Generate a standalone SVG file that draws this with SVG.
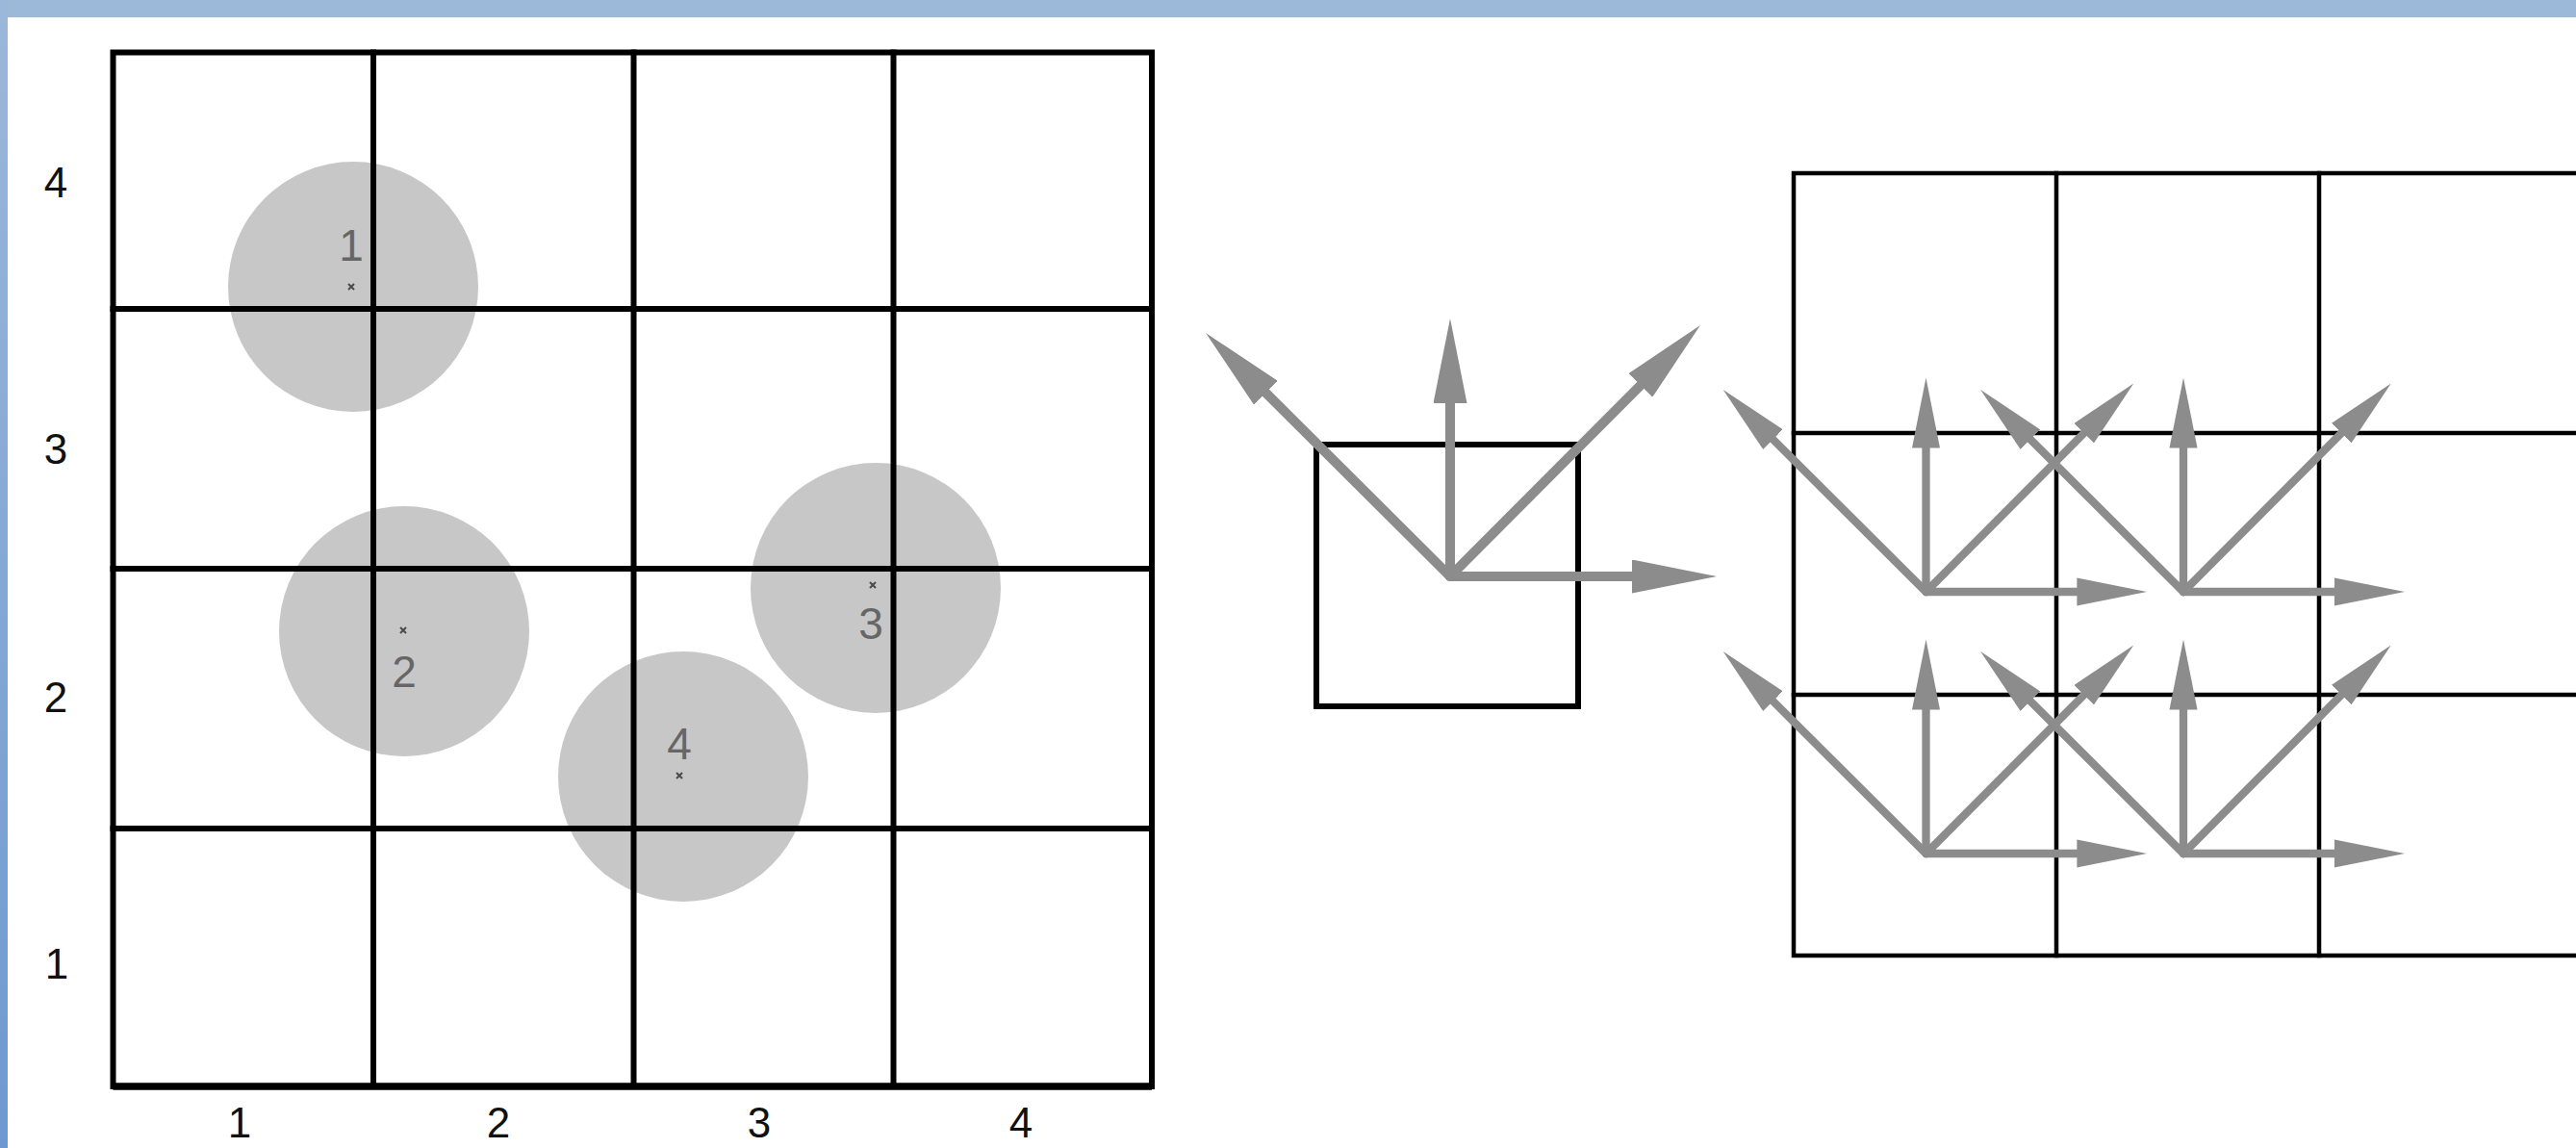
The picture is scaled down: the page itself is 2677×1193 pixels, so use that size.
<svg xmlns="http://www.w3.org/2000/svg" xmlns:xlink="http://www.w3.org/1999/xlink" width="2677" height="1193" viewBox="0 0 2677 1193">
  <style>
    .grid { stroke: #000; stroke-width: 6; fill: none; stroke-linecap: square; }
    .gridR { stroke: #000; stroke-width: 4.5; fill: none; stroke-linecap: square; }
    .disc { fill: #c7c7c7; }
    .dot { stroke: #4a4a4a; stroke-width: 2; }
    .axis { font-family: "Liberation Sans Narrow", "Liberation Sans", Arial, sans-serif; font-size: 44px; fill: #111; text-anchor: middle; }
    .clabel { font-family: "Liberation Sans Narrow", "Liberation Sans", Arial, sans-serif; font-size: 46px; fill: #666; text-anchor: middle; }
    .arr { stroke: #8c8c8c; stroke-width: 10; fill: none; stroke-linecap: round; marker-end: url(#ah); }
  </style>
  <defs>
    <linearGradient id="bandL" x1="0" y1="0" x2="0" y2="1">
      <stop offset="0" stop-color="#9bb8da"/>
      <stop offset="1" stop-color="#6e99d0"/>
    </linearGradient>
    <marker id="ah" markerUnits="strokeWidth" markerWidth="8.8" markerHeight="3.5" viewBox="0 0 8.8 3.5" refX="0.8" refY="1.75" orient="auto">
      <path d="M0,0 L8.8,1.75 L0,3.5 Z" fill="#8c8c8c"/>
    </marker>
    <g id="arrowset">
      <line class="arr" x1="0" y1="0" x2="0" y2="-188"/>
      <line class="arr" x1="0" y1="0" x2="197" y2="0"/>
      <line class="arr" x1="0" y1="0" x2="-197.3" y2="-196.5"/>
      <line class="arr" x1="0" y1="0" x2="203.5" y2="-204.3"/>
    </g>
    <path id="xmark" class="dot" d="M-3,-3 L3,3 M3,-3 L-3,3"/>
  </defs>

  <rect x="0" y="0" width="2677" height="1193" fill="#fff"/>
  <rect x="0" y="0" width="2677" height="18" fill="#9db9da"/>
  <rect x="0" y="0" width="8" height="1193" fill="url(#bandL)"/>

  <g id="discs">
    <g id="disc1"><circle class="disc" cx="367" cy="298" r="130"/></g>
    <g id="disc2"><circle class="disc" cx="420" cy="656" r="130"/></g>
    <g id="disc3"><circle class="disc" cx="910" cy="611" r="130"/></g>
    <g id="disc4"><circle class="disc" cx="710" cy="807" r="130"/></g>
  </g>

  <g id="left-grid">
    <rect class="grid" x="117.5" y="54.5" width="1079.5" height="1074.5"/>
    <line class="grid" x1="388" y1="54.5" x2="388" y2="1129"/>
    <line class="grid" x1="658.5" y1="54.5" x2="658.5" y2="1129"/>
    <line class="grid" x1="928.5" y1="54.5" x2="928.5" y2="1129"/>
    <line class="grid" x1="117.5" y1="321" x2="1197" y2="321"/>
    <line class="grid" x1="117.5" y1="591" x2="1197" y2="591"/>
    <line class="grid" x1="117.5" y1="861" x2="1197" y2="861"/>
    <line x1="117.5" y1="1129" x2="1197" y2="1129" stroke="#000" stroke-width="7.5"/>
  </g>

  <g id="points">
    <g id="p1"><use xlink:href="#xmark" x="365" y="298"/><text class="clabel" x="365" y="271">1</text></g>
    <g id="p2"><use xlink:href="#xmark" x="419" y="655"/><text class="clabel" x="420" y="714">2</text></g>
    <g id="p3"><use xlink:href="#xmark" x="907" y="608"/><text class="clabel" x="905" y="664">3</text></g>
    <g id="p4"><use xlink:href="#xmark" x="706" y="806"/><text class="clabel" x="706" y="789">4</text></g>
  </g>

  <g id="axis-labels">
    <text class="axis" x="58" y="205">4</text>
    <text class="axis" x="58" y="482">3</text>
    <text class="axis" x="58" y="740">2</text>
    <text class="axis" x="59" y="1017">1</text>
    <text class="axis" x="249" y="1182">1</text>
    <text class="axis" x="518" y="1182">2</text>
    <text class="axis" x="789" y="1182">3</text>
    <text class="axis" x="1061" y="1182">4</text>
  </g>

  <g id="single-cell">
    <rect class="grid" x="1368" y="462" width="272" height="272"/>
  </g>

  <g id="right-grid">
    <rect class="gridR" x="1864" y="180" width="816" height="813"/>
    <line class="gridR" x1="2137" y1="180" x2="2137" y2="993"/>
    <line class="gridR" x1="2410" y1="180" x2="2410" y2="993"/>
    <line class="gridR" x1="1864" y1="450" x2="2680" y2="450"/>
    <line class="gridR" x1="1864" y1="722" x2="2680" y2="722"/>
  </g>

  <g id="connectors">
    <use xlink:href="#arrowset" transform="translate(1507,599)"/>
    <use xlink:href="#arrowset" transform="translate(2001.5,615) scale(0.83)"/>
    <use xlink:href="#arrowset" transform="translate(2269,615) scale(0.83)"/>
    <use xlink:href="#arrowset" transform="translate(2001.5,887) scale(0.83)"/>
    <use xlink:href="#arrowset" transform="translate(2269,887) scale(0.83)"/>
  </g>
</svg>
